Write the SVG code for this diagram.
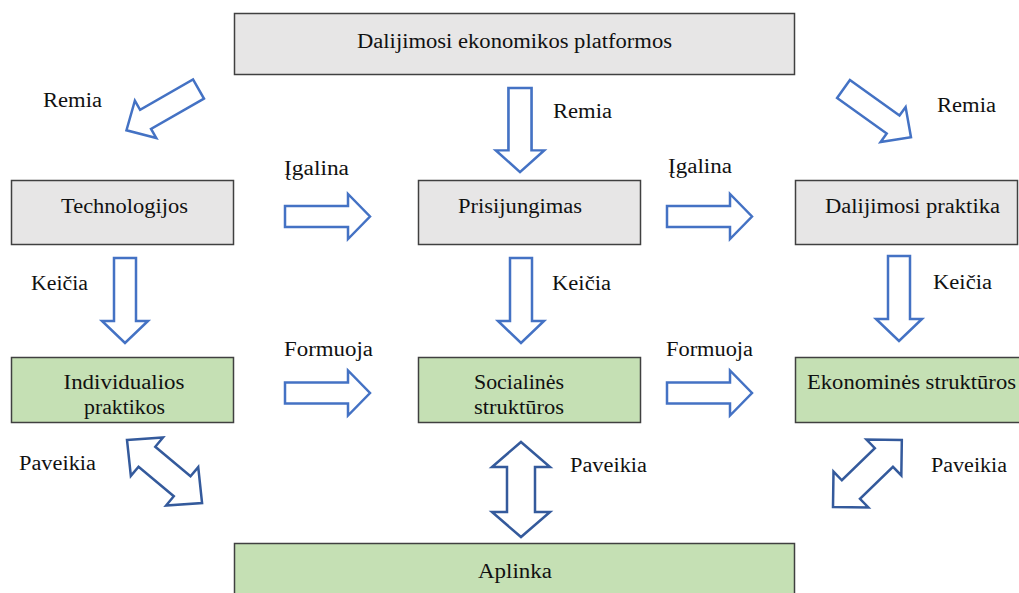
<svg xmlns="http://www.w3.org/2000/svg" width="1019" height="593" viewBox="0 0 1019 593">
<style>
.box{stroke:#404040;stroke-width:1.5}
.gray{fill:#e7e6e6}
.green{fill:#c5e0b4}
text{font-family:'Liberation Serif','Tinos','DejaVu Serif','Noto Serif',serif;font-size:20.5px;fill:#111;text-anchor:middle}
.arr{fill:#fff;stroke:#4472c4;stroke-width:2.5;stroke-linejoin:miter}
.dbl{fill:#fff;stroke:#345a9c;stroke-width:2.5;stroke-linejoin:miter}
</style>
<defs>
<polygon id="a85" points="0,-10.5 63,-10.5 63,-22.5 85,0 63,22.5 63,10.5 0,10.5"/>
<polygon id="d85" points="0,-11 63,-11 63,-23 85,0 63,23 63,11 0,11"/>
<polygon id="g82" points="0,-11 61,-11 61,-21.5 83,0 61,21.5 61,11 0,11"/>
</defs>
<rect x="0" y="0" width="1019" height="593" fill="#fff"/>

<g id="n-platformos"><rect class="box gray" x="234.5" y="13.5" width="560" height="61"/><text x="514.5" y="48" textLength="315" lengthAdjust="spacingAndGlyphs">Dalijimosi ekonomikos platformos</text></g>
<g id="n-technologijos"><rect class="box gray" x="11.5" y="180.5" width="222" height="64"/><text x="124.5" y="213" textLength="127" lengthAdjust="spacingAndGlyphs">Technologijos</text></g>
<g id="n-prisijungimas"><rect class="box gray" x="418.5" y="180.5" width="222" height="64"/><text x="520" y="213" textLength="124" lengthAdjust="spacingAndGlyphs">Prisijungimas</text></g>
<g id="n-praktika"><rect class="box gray" x="795.5" y="180.5" width="222" height="64"/><text x="912.5" y="213" textLength="175" lengthAdjust="spacingAndGlyphs">Dalijimosi praktika</text></g>
<g id="n-individualios"><rect class="box green" x="11.5" y="357.5" width="222" height="65"/><text x="124" y="389" textLength="121" lengthAdjust="spacingAndGlyphs">Individualios</text><text x="124.5" y="414" textLength="81" lengthAdjust="spacingAndGlyphs">praktikos</text></g>
<g id="n-socialines"><rect class="box green" x="418.5" y="357.5" width="222" height="65"/><text x="519" y="389" textLength="90" lengthAdjust="spacingAndGlyphs">Socialinės</text><text x="519" y="414" textLength="90" lengthAdjust="spacingAndGlyphs">struktūros</text></g>
<g id="n-ekonomines"><rect class="box green" x="795.5" y="357.5" width="240" height="65"/><text x="911.5" y="389" textLength="209" lengthAdjust="spacingAndGlyphs">Ekonominės struktūros</text></g>
<g id="n-aplinka"><rect class="box green" x="234.5" y="543.5" width="560" height="60"/><text x="515" y="578" textLength="74" lengthAdjust="spacingAndGlyphs">Aplinka</text></g>

<g id="connectors">
<use href="#g82" class="arr" transform="translate(198.5,89) rotate(150.2)"/>
<use href="#d85" class="arr" transform="translate(520,88) rotate(90) scale(0.99,1.05)"/>
<use href="#g82" class="arr" transform="translate(843.5,89) rotate(35.6)"/>
<use href="#a85" class="arr" transform="translate(285,216.5)"/>
<use href="#a85" class="arr" transform="translate(667,216.5)"/>
<use href="#d85" class="arr" transform="translate(125,258) rotate(90)"/>
<use href="#d85" class="arr" transform="translate(521,258) rotate(90)"/>
<use href="#d85" class="arr" transform="translate(899,256) rotate(90)"/>
<use href="#a85" class="arr" transform="translate(285,393)"/>
<use href="#a85" class="arr" transform="translate(667,393)"/>
<polygon class="dbl" transform="translate(127,440) rotate(40)" points="0,0 26,-25 26,-13 72,-13 72,-25 98,0 72,25 72,13 26,13 26,25"/>
<polygon class="dbl" transform="translate(521,442) rotate(90)" points="0,0 25,-29 25,-14 70,-14 70,-29 95,0 70,29 70,14 25,14 25,29"/>
<polygon class="dbl" transform="translate(833,507) rotate(-44.2)" points="0,0 25,-25 25,-13 71,-13 71,-25 96,0 71,25 71,13 25,13 25,25"/>
<text x="72.5" y="107" textLength="59" lengthAdjust="spacingAndGlyphs">Remia</text>
<text x="582.5" y="118" textLength="59" lengthAdjust="spacingAndGlyphs">Remia</text>
<text x="966.5" y="112" textLength="59" lengthAdjust="spacingAndGlyphs">Remia</text>
<text x="316.5" y="175" textLength="65" lengthAdjust="spacingAndGlyphs">Įgalina</text>
<text x="700" y="173" textLength="64" lengthAdjust="spacingAndGlyphs">Įgalina</text>
<text x="59.5" y="290" textLength="57" lengthAdjust="spacingAndGlyphs">Keičia</text>
<text x="581.5" y="290" textLength="59" lengthAdjust="spacingAndGlyphs">Keičia</text>
<text x="962.5" y="289" textLength="59" lengthAdjust="spacingAndGlyphs">Keičia</text>
<text x="328.5" y="356" textLength="89" lengthAdjust="spacingAndGlyphs">Formuoja</text>
<text x="709.5" y="356" textLength="87" lengthAdjust="spacingAndGlyphs">Formuoja</text>
<text x="57.5" y="470" textLength="77" lengthAdjust="spacingAndGlyphs">Paveikia</text>
<text x="608.5" y="472" textLength="77" lengthAdjust="spacingAndGlyphs">Paveikia</text>
<text x="969" y="472" textLength="76" lengthAdjust="spacingAndGlyphs">Paveikia</text>
</g>
</svg>
